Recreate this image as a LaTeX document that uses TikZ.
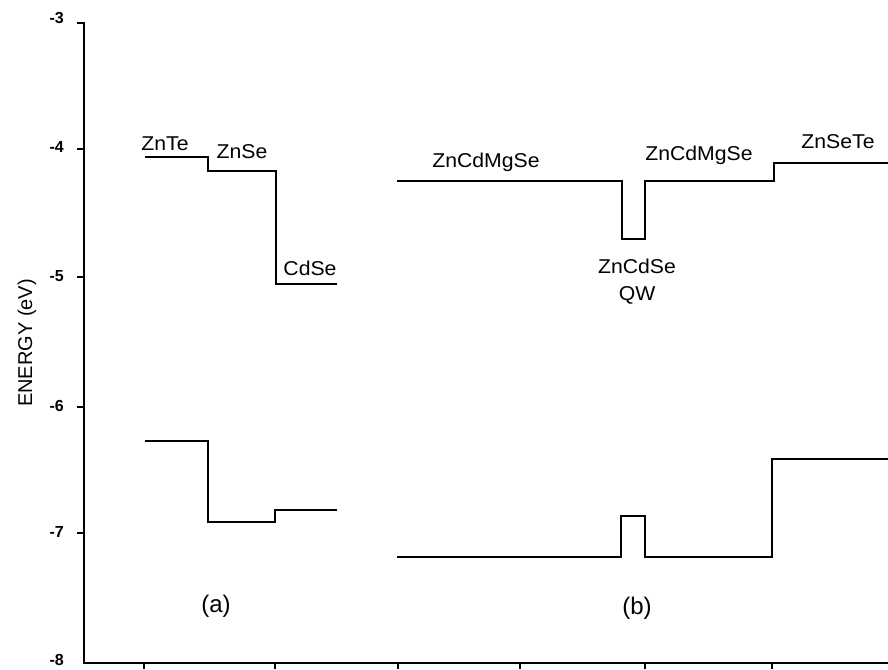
\documentclass[tikz,border=0pt]{standalone}
\usepackage{fontspec}
\setmainfont{Liberation Sans}
\begin{document}
\begin{tikzpicture}[x=1pt,y=-1pt,
  band/.style={line width=2.6pt, line join=miter},
  axisline/.style={line width=2.2pt},
  lbl/.style={font=\fontsize{20}{24}\selectfont, inner sep=0pt, anchor=base, xscale=1.06, transform shape},
  caplbl/.style={font=\fontsize{20}{24}\selectfont, inner sep=0pt, anchor=center},
  panellbl/.style={font=\fontsize{24}{28}\selectfont, inner sep=0pt, anchor=center},
  ticklbl/.style={font=\fontsize{16}{19}\selectfont\bfseries, inner sep=0pt, anchor=east}]
\useasboundingbox (0,0) rectangle (888,669);
% axes
\draw[axisline] (77,23) -- (84,23) -- (84,663) -- (888,663);
\foreach \yy in {149,277,407,533}
  \draw[axisline] (77,\yy) -- (84,\yy);
\foreach \xx in {144,275,398,520,645,772}
  \draw[axisline] (\xx,663) -- (\xx,669);
% tick labels
\node[ticklbl] (t3) at (64,18) {-3};
\node[ticklbl] (t4) at (64,147) {-4};
\node[ticklbl] (t5) at (64,276) {-5};
\node[ticklbl] (t6) at (64,406) {-6};
\node[ticklbl] (t7) at (64,532) {-7};
\node[ticklbl] (t8) at (64,660) {-8};
\node[caplbl, rotate=90] (ylab) at (27,343) {ENERGY (eV)};
% (a) bands
\draw[band] (145,157) -| (208,171) -| (276,284) -- (337,284);
\draw[band] (145,441) -| (208,522) -| (275,510) -- (337,510);
% (b) bands
\draw[band] (397,181) -| (622,239) -| (645,181) -| (774,163) -- (888,163);
\draw[band] (397,557) -| (621,516) -| (645,557) -| (772,459) -- (888,459);
% labels
\node[lbl] (znte) at (165,150) {ZnTe};
\node[lbl] (znse) at (242,158) {ZnSe};
\node[lbl] (cdse) at (310,275) {CdSe};
\node[lbl] (mg1) at (486,167) {ZnCdMgSe};
\node[lbl] (mg2) at (699,160) {ZnCdMgSe};
\node[lbl] (znsete) at (838,148) {ZnSeTe};
\node[lbl] (qwm) at (637,273) {ZnCdSe};
\node[lbl] (qw) at (637,300) {QW};
\node[panellbl] (pa) at (216,606) {(a)};
\node[panellbl] (pb) at (637,608) {(b)};
\end{tikzpicture}
\end{document}
